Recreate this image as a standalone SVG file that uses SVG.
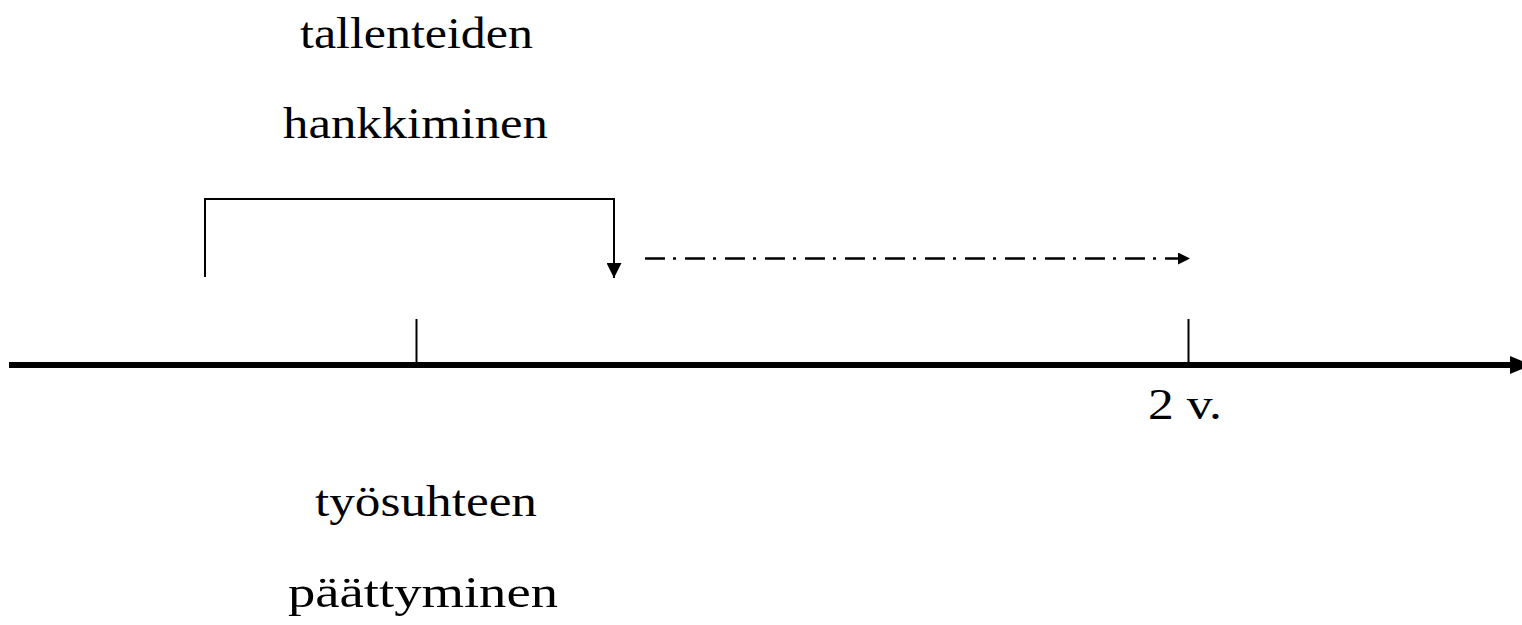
<svg xmlns="http://www.w3.org/2000/svg" width="1522" height="625" viewBox="0 0 1522 625">
<style>
.lbl{font-family:"Liberation Serif","Times New Roman",serif;font-size:44px;fill:#000}
.ln{stroke:#000;fill:none}
</style>
<defs>
<marker id="ah" markerWidth="12" markerHeight="12" refX="12" refY="6" orient="auto" markerUnits="userSpaceOnUse"><path d="M0,0 L12,6 L0,12 Z" fill="#000"/></marker>
<marker id="ahd" markerWidth="15" markerHeight="15" refX="15" refY="7.5" orient="auto" markerUnits="userSpaceOnUse"><path d="M0,0 L15,7.5 L0,15 Z" fill="#000"/></marker>
<marker id="axis" markerWidth="22" markerHeight="18" refX="22" refY="9" orient="auto" markerUnits="userSpaceOnUse"><path d="M0,0 L22,9 L0,18 Z" fill="#000"/></marker>
</defs>
<g id="connectors">
<line class="ln" x1="9" y1="365" x2="1532" y2="365" stroke-width="6" marker-end="url(#axis)"/>
<line class="ln" x1="416.5" y1="319" x2="416.5" y2="363" stroke-width="2"/>
<line class="ln" x1="1188.5" y1="319" x2="1188.5" y2="363" stroke-width="2"/>
<path class="ln" d="M205,277 V199 H614 V278" stroke-width="2" marker-end="url(#ahd)"/>
<line class="ln" x1="645" y1="258.5" x2="1190" y2="258.5" stroke-width="2.5" stroke-dasharray="20 8 3 9" marker-end="url(#ah)"/>
</g>
<g id="label-tallenteiden">
<text class="lbl" x="300" y="48" textLength="233" lengthAdjust="spacingAndGlyphs">tallenteiden</text>
<text class="lbl" x="283" y="138" textLength="265" lengthAdjust="spacingAndGlyphs">hankkiminen</text>
</g>
<g id="label-2v">
<text class="lbl" x="1148" y="419" textLength="74" lengthAdjust="spacingAndGlyphs">2 v.</text>
</g>
<g id="label-tyosuhteen">
<text class="lbl" x="315" y="516" textLength="222" lengthAdjust="spacingAndGlyphs">työsuhteen</text>
<text class="lbl" x="288" y="607" textLength="270" lengthAdjust="spacingAndGlyphs">päättyminen</text>
</g>
</svg>
